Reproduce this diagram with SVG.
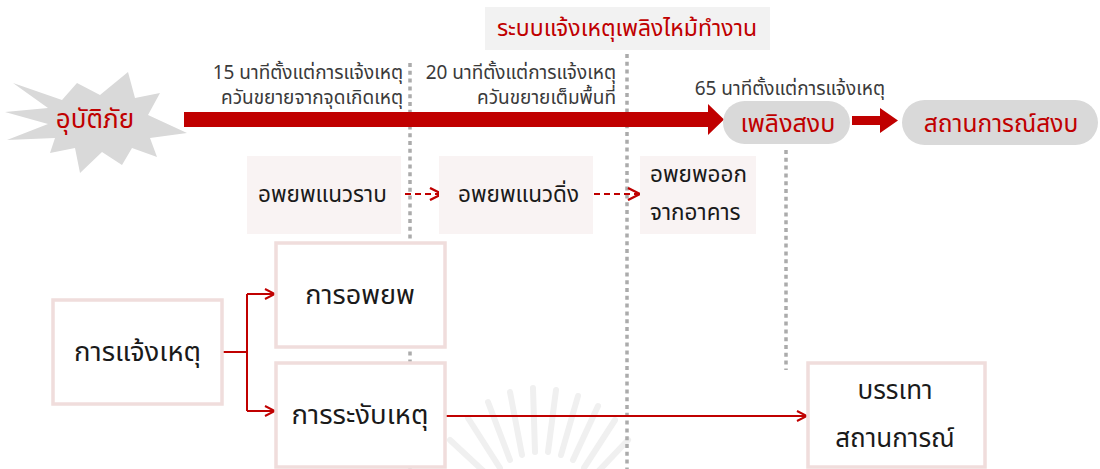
<svg xmlns="http://www.w3.org/2000/svg" width="1100" height="469" viewBox="0 0 1100 469">
  <defs>
    <style>
      .th { font-family: "Noto Sans Thai", "Noto Sans", "DejaVu Sans", sans-serif; }
      .red { fill: #c00000; }
      .ink { fill: #1a1a1a; }
      .grey { fill: #3a3a3a; }
      .dots { stroke: #ababab; stroke-width: 3.5; stroke-dasharray: 4 3.8; fill: none; }
      .box { fill: #ffffff; stroke: #f0dddc; stroke-width: 3.5; }
      .soft { fill: #f9f3f3; }
      .pill { fill: #d9d9d9; }
      .link { stroke: #c00000; stroke-width: 2; fill: none; }
    </style>
    <marker id="chev" viewBox="0 0 12 12" refX="11" refY="6" markerWidth="12" markerHeight="12" markerUnits="userSpaceOnUse" orient="auto">
      <path d="M1,1 L11,6 L1,11" fill="none" stroke="#c00000" stroke-width="2"/>
    </marker>
    <marker id="chev-lg" viewBox="0 0 14 14" refX="13" refY="7" markerWidth="14" markerHeight="14" markerUnits="userSpaceOnUse" orient="auto">
      <path d="M1,1 L13,7 L1,13" fill="none" stroke="#c00000" stroke-width="2.4"/>
    </marker>
  </defs>

  <rect width="1100" height="469" fill="#ffffff"/>

  <!-- faint seal in the background -->
  <g id="seal" stroke="#f0f0f0" stroke-width="6" stroke-linecap="round" fill="none">
    <line x1="493" y1="480" x2="450" y2="440"/>
    <line x1="500" y1="468" x2="468" y2="418"/>
    <line x1="510" y1="460" x2="488" y2="402"/>
    <line x1="522" y1="455" x2="510" y2="392"/>
    <line x1="535" y1="452" x2="533" y2="388"/>
    <line x1="548" y1="452" x2="556" y2="390"/>
    <line x1="561" y1="455" x2="578" y2="396"/>
    <line x1="573" y1="460" x2="598" y2="406"/>
    <line x1="584" y1="468" x2="615" y2="420"/>
    <line x1="592" y1="478" x2="628" y2="440"/>
  </g>

  <!-- time dividers -->
  <g id="dividers">
    <line class="dots" x1="410" y1="63" x2="410" y2="469"/>
    <line class="dots" x1="627" y1="54" x2="627" y2="469"/>
    <line class="dots" x1="786" y1="150" x2="786" y2="370"/>
  </g>

  <!-- title -->
  <g id="title">
    <rect x="485" y="7" width="285" height="43" fill="#f2f2f2"/>
    <text class="th red" x="627" y="36" font-size="23" text-anchor="middle">ระบบแจ้งเหตุเพลิงไหม้ทำงาน</text>
  </g>

  <!-- time labels -->
  <g id="times" class="th grey" font-size="19" text-anchor="end">
    <text x="403" y="79">15 นาทีตั้งแต่การแจ้งเหตุ</text>
    <text x="403" y="104">ควันขยายจากจุดเกิดเหตุ</text>
    <text x="616" y="79">20 นาทีตั้งแต่การแจ้งเหตุ</text>
    <text x="616" y="104">ควันขยายเต็มพื้นที่</text>
    <text x="885" y="95">65 นาทีตั้งแต่การแจ้งเหตุ</text>
  </g>

  <!-- timeline arrows -->
  <g id="connectors">
    <polygon fill="#c00000" points="184,112 708,112 708,104 724,119.5 708,135 708,127 184,127"/>
    <polygon fill="#c00000" points="852,116 880,116 880,108 898,120.5 880,133 880,125 852,125"/>
    <line class="link" x1="395" y1="194" x2="442" y2="194" stroke-width="2.4" stroke-dasharray="6 4" marker-end="url(#chev-lg)"/>
    <line class="link" x1="594" y1="194" x2="640" y2="194" stroke-width="2.4" stroke-dasharray="6 4" marker-end="url(#chev-lg)"/>
    <polyline class="link" points="222,352 247,352"/>
    <polyline class="link" points="247,294 247,411"/>
    <line class="link" x1="247" y1="294" x2="275" y2="294" marker-end="url(#chev)"/>
    <line class="link" x1="247" y1="411" x2="275" y2="411" marker-end="url(#chev)"/>
    <line class="link" x1="445" y1="416" x2="807" y2="416" marker-end="url(#chev)"/>
  </g>

  <!-- incident burst -->
  <g id="incident">
    <polygon fill="#d9d9d9" points="13,83 62,100 77,83 100,95 128,72 135,98 160,93 148,115 187,133 150,138 157,157 132,148 122,165 102,152 80,173 75,148 50,153 55,138 7,140 48,124 5,112 48,108"/>
    <text class="th red" x="95" y="128" font-size="26" text-anchor="middle">อุบัติภัย</text>
  </g>

  <g id="fire-out">
    <rect class="pill" x="723" y="101" width="127" height="43" rx="21.5"/>
    <text class="th red" x="788" y="132" font-size="25" text-anchor="middle">เพลิงสงบ</text>
  </g>

  <g id="calm">
    <rect class="pill" x="902" y="100" width="196" height="45" rx="22.5"/>
    <text class="th red" x="1001" y="132" font-size="24.5" text-anchor="middle">สถานการณ์สงบ</text>
  </g>

  <!-- evacuation stages -->
  <g id="horizontal">
    <rect class="soft" x="247" y="156" width="154" height="78"/>
    <text class="th ink" x="258" y="202" font-size="22.5">อพยพแนวราบ</text>
  </g>
  <g id="vertical">
    <rect class="soft" x="439" y="156" width="154" height="78"/>
    <text class="th ink" x="458" y="202" font-size="22.5">อพยพแนวดิ่ง</text>
  </g>
  <g id="exit">
    <rect class="soft" x="640" y="156" width="116" height="78"/>
    <text class="th ink" x="650" y="182" font-size="22.5">อพยพออก</text>
    <text class="th ink" x="650" y="220" font-size="22.5">จากอาคาร</text>
  </g>

  <!-- response boxes -->
  <g id="alarm">
    <rect class="box" x="53" y="300" width="169" height="104"/>
    <text class="th ink" x="137.5" y="361" font-size="27.5" text-anchor="middle">การแจ้งเหตุ</text>
  </g>
  <g id="evacuate">
    <rect class="box" x="276" y="243" width="169" height="104"/>
    <text class="th ink" x="360" y="304" font-size="27" text-anchor="middle">การอพยพ</text>
  </g>
  <g id="suppress">
    <rect class="box" x="276" y="363" width="169" height="104"/>
    <text class="th ink" x="360" y="424" font-size="27.5" text-anchor="middle">การระงับเหตุ</text>
  </g>
  <g id="mitigate">
    <rect class="box" x="808" y="363" width="177" height="104"/>
    <text class="th ink" x="895" y="399" font-size="26" text-anchor="middle">บรรเทา</text>
    <text class="th ink" x="895" y="447" font-size="26" text-anchor="middle">สถานการณ์</text>
  </g>
</svg>
